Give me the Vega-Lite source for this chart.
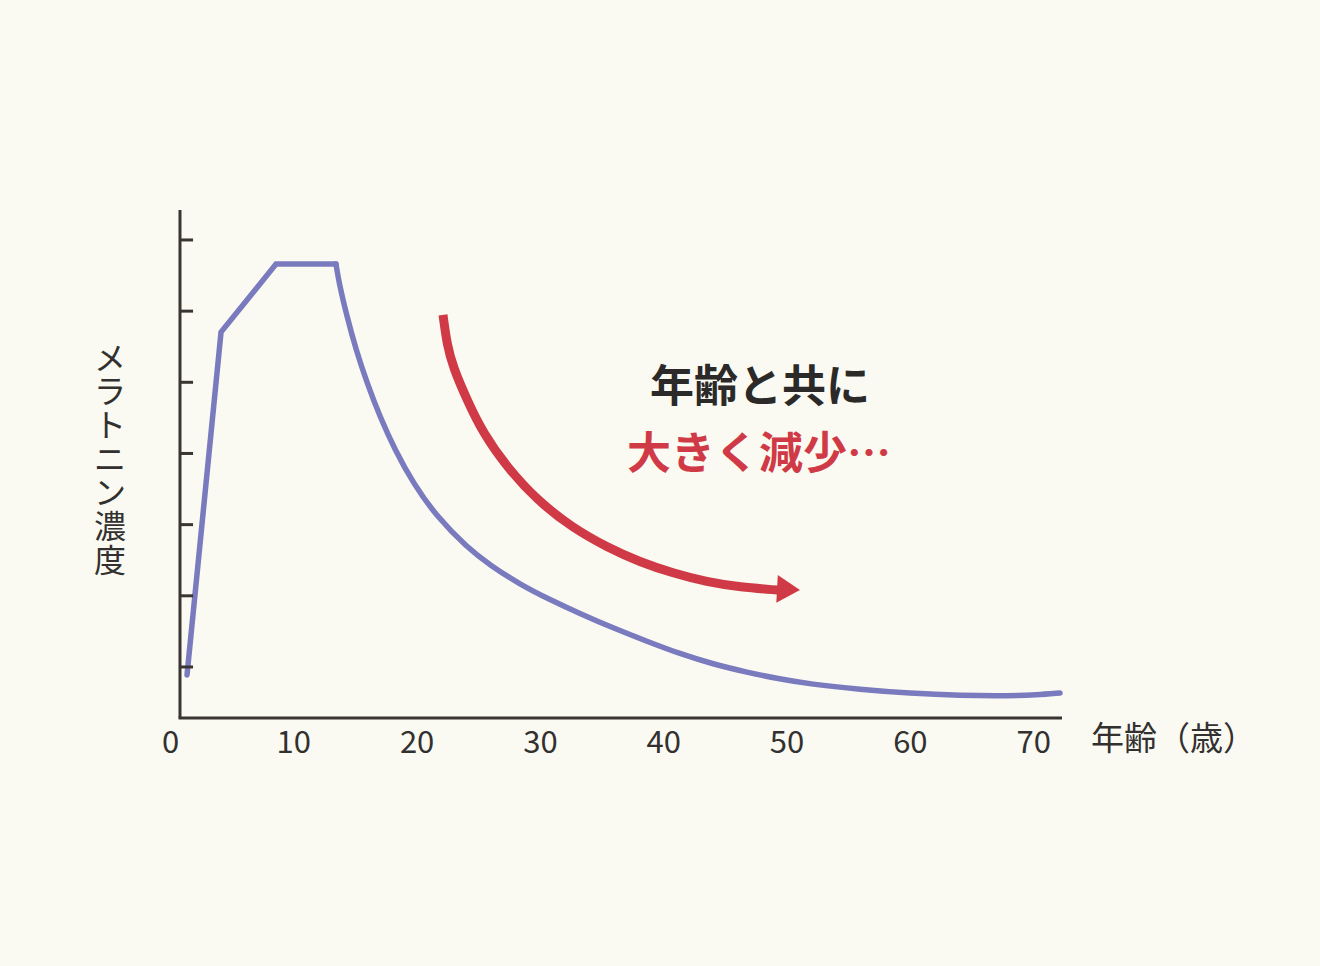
{
  "$schema": "https://vega.github.io/schema/vega-lite/v6.json",
  "width": 892,
  "height": 508,
  "autosize": {"type": "none"},
  "padding": {"left": 170, "top": 210, "right": 258, "bottom": 248},
  "background": "#FAFAF2",
  "config": {
    "view": {"stroke": null},
    "font": "Noto Sans CJK JP",
    "axisX": {
      "domain": false, "ticks": false, "tickSize": 0, "grid": false,
      "labelFontSize": 31, "labelColor": "#333030", "labelPadding": 10,
      "labelFont": "Noto Sans CJK JP", "labelFontWeight": 400,
      "labelFlush": false, "labelOverlap": false, "title": null
    }
  },
  "datasets": {
    "one": [{"k": 1}],
    "rise": [
      {"age": 1.38, "level": 0.888},
      {"age": 4.14, "level": 5.707},
      {"age": 8.60, "level": 6.662},
      {"age": 13.46, "level": 6.662}
    ],
    "decay": [
      {"age": 13.46, "level": 6.662},
      {"age": 13.71, "level": 6.396},
      {"age": 14.36, "level": 5.918},
      {"age": 15.09, "level": 5.455},
      {"age": 15.98, "level": 4.991},
      {"age": 17.03, "level": 4.514},
      {"age": 18.25, "level": 4.050},
      {"age": 19.71, "level": 3.586},
      {"age": 21.65, "level": 3.108},
      {"age": 24.09, "level": 2.680},
      {"age": 25.95, "level": 2.430},
      {"age": 28.39, "level": 2.160},
      {"age": 30.82, "level": 1.945},
      {"age": 33.25, "level": 1.750},
      {"age": 35.93, "level": 1.548},
      {"age": 38.69, "level": 1.360},
      {"age": 41.36, "level": 1.185},
      {"age": 44.04, "level": 1.040},
      {"age": 46.80, "level": 0.925},
      {"age": 49.47, "level": 0.830},
      {"age": 51.90, "level": 0.760},
      {"age": 55.96, "level": 0.685},
      {"age": 60.02, "level": 0.630},
      {"age": 64.07, "level": 0.598},
      {"age": 68.13, "level": 0.593},
      {"age": 70.24, "level": 0.607},
      {"age": 72.18, "level": 0.635}
    ],
    "arrow": [
      {"age": 22.14, "level": 5.946},
      {"age": 22.47, "level": 5.524},
      {"age": 22.95, "level": 5.215},
      {"age": 24.09, "level": 4.750},
      {"age": 25.39, "level": 4.286},
      {"age": 27.33, "level": 3.808},
      {"age": 29.76, "level": 3.344},
      {"age": 32.68, "level": 2.951},
      {"age": 35.44, "level": 2.684},
      {"age": 38.12, "level": 2.473},
      {"age": 40.79, "level": 2.319},
      {"age": 43.55, "level": 2.193},
      {"age": 46.23, "level": 2.122},
      {"age": 49.31, "level": 2.080}
    ],
    "ticks": [
      {"level": 1}, {"level": 2}, {"level": 3}, {"level": 4},
      {"level": 5}, {"level": 6}, {"level": 7}
    ]
  },
  "layer": [
    {
      "data": {"name": "rise"},
      "mark": {"type": "line", "color": "#7A7ABF", "strokeWidth": 5.5, "strokeCap": "round", "strokeJoin": "miter", "interpolate": "linear"},
      "encoding": {
        "x": {"field": "age", "type": "quantitative", "scale": {"domain": [0, 72.34], "nice": false, "zero": false}, "axis": {"values": [0, 10, 20, 30, 40, 50, 60, 70]}},
        "y": {"field": "level", "type": "quantitative", "scale": {"domain": [0.283, 7.421], "nice": false, "zero": false}, "axis": null}
      }
    },
    {
      "data": {"name": "one"},
      "mark": {"type": "rule", "color": "#3A3532", "strokeWidth": 3},
      "encoding": {
        "x": {"datum": 0.81, "type": "quantitative", "scale": {"domain": [0, 72.34], "nice": false, "zero": false}, "axis": {"values": [0, 10, 20, 30, 40, 50, 60, 70]}},
        "y": {"datum": 0.283, "type": "quantitative", "scale": {"domain": [0.283, 7.421], "nice": false, "zero": false}, "axis": null},
        "y2": {"datum": 7.421}
      }
    },
    {
      "data": {"name": "one"},
      "mark": {"type": "rule", "color": "#3A3532", "strokeWidth": 3},
      "encoding": {
        "x": {"datum": 0.69, "type": "quantitative", "scale": {"domain": [0, 72.34], "nice": false, "zero": false}, "axis": {"values": [0, 10, 20, 30, 40, 50, 60, 70]}},
        "x2": {"datum": 72.34},
        "y": {"datum": 0.283, "type": "quantitative", "scale": {"domain": [0.283, 7.421], "nice": false, "zero": false}, "axis": null}
      }
    },
    {
      "data": {"name": "ticks"},
      "mark": {"type": "rule", "color": "#3A3532", "strokeWidth": 3},
      "encoding": {
        "x": {"datum": 0.81, "type": "quantitative", "scale": {"domain": [0, 72.34], "nice": false, "zero": false}, "axis": {"values": [0, 10, 20, 30, 40, 50, 60, 70]}},
        "x2": {"datum": 1.87},
        "y": {"field": "level", "type": "quantitative", "scale": {"domain": [0.283, 7.421], "nice": false, "zero": false}, "axis": null}
      }
    },
    {
      "data": {"name": "decay"},
      "mark": {"type": "line", "color": "#7A7ABF", "strokeWidth": 5.5, "strokeCap": "round", "interpolate": "basis"},
      "encoding": {
        "x": {"field": "age", "type": "quantitative", "scale": {"domain": [0, 72.34], "nice": false, "zero": false}, "axis": {"values": [0, 10, 20, 30, 40, 50, 60, 70]}},
        "y": {"field": "level", "type": "quantitative", "scale": {"domain": [0.283, 7.421], "nice": false, "zero": false}, "axis": null}
      }
    },
    {
      "data": {"name": "arrow"},
      "mark": {"type": "line", "color": "#D03A46", "strokeWidth": 9, "strokeCap": "butt", "interpolate": "basis"},
      "encoding": {
        "x": {"field": "age", "type": "quantitative", "scale": {"domain": [0, 72.34], "nice": false, "zero": false}, "axis": {"values": [0, 10, 20, 30, 40, 50, 60, 70]}},
        "y": {"field": "level", "type": "quantitative", "scale": {"domain": [0.283, 7.421], "nice": false, "zero": false}, "axis": null}
      }
    },
    {
      "data": {"name": "one"},
      "mark": {"type": "point", "shape": "M-0.82,-1L0.82,0L-0.82,1Z", "size": 784, "filled": true, "opacity": 1, "color": "#D03A46", "angle": 3, "strokeWidth": 0},
      "encoding": {
        "x": {"datum": 50.16, "type": "quantitative", "scale": {"domain": [0, 72.34], "nice": false, "zero": false}, "axis": {"values": [0, 10, 20, 30, 40, 50, 60, 70]}},
        "y": {"datum": 2.089, "type": "quantitative", "scale": {"domain": [0.283, 7.421], "nice": false, "zero": false}, "axis": null}
      }
    },
    {
      "data": {"name": "one"},
      "mark": {"type": "text", "text": "年齢と共に", "font": "Noto Sans CJK JP", "fontSize": 44, "fontWeight": 700, "color": "#2B2A29", "align": "center", "baseline": "middle"},
      "encoding": {
        "x": {"datum": 47.85, "type": "quantitative", "scale": {"domain": [0, 72.34], "nice": false, "zero": false}, "axis": {"values": [0, 10, 20, 30, 40, 50, 60, 70]}},
        "y": {"datum": 4.90, "type": "quantitative", "scale": {"domain": [0.283, 7.421], "nice": false, "zero": false}, "axis": null}
      }
    },
    {
      "data": {"name": "one"},
      "mark": {"type": "text", "text": "大きく減少…", "font": "Noto Sans CJK JP", "fontSize": 44, "fontWeight": 700, "color": "#D03A46", "align": "center", "baseline": "middle"},
      "encoding": {
        "x": {"datum": 47.77, "type": "quantitative", "scale": {"domain": [0, 72.34], "nice": false, "zero": false}, "axis": {"values": [0, 10, 20, 30, 40, 50, 60, 70]}},
        "y": {"datum": 3.965, "type": "quantitative", "scale": {"domain": [0.283, 7.421], "nice": false, "zero": false}, "axis": null}
      }
    },
    {
      "data": {"name": "one"},
      "mark": {"type": "text", "text": ["メ", "ラ", "ト", "ニ", "ン", "濃", "度"], "font": "Noto Sans CJK JP", "fontSize": 32, "lineHeight": 33.7, "color": "#333030", "align": "center", "baseline": "middle"},
      "encoding": {
        "x": {"datum": -4.87, "type": "quantitative", "scale": {"domain": [0, 72.34], "nice": false, "zero": false}, "axis": {"values": [0, 10, 20, 30, 40, 50, 60, 70]}},
        "y": {"datum": 5.32, "type": "quantitative", "scale": {"domain": [0.283, 7.421], "nice": false, "zero": false}, "axis": null}
      }
    },
    {
      "data": {"name": "one"},
      "mark": {"type": "text", "text": "年齢（歳）", "font": "Noto Sans CJK JP", "fontSize": 33, "color": "#333030", "align": "left", "baseline": "middle"},
      "encoding": {
        "x": {"datum": 74.70, "type": "quantitative", "scale": {"domain": [0, 72.34], "nice": false, "zero": false}, "axis": {"values": [0, 10, 20, 30, 40, 50, 60, 70]}},
        "y": {"datum": -0.026, "type": "quantitative", "scale": {"domain": [0.283, 7.421], "nice": false, "zero": false}, "axis": null}
      }
    }
  ]
}
